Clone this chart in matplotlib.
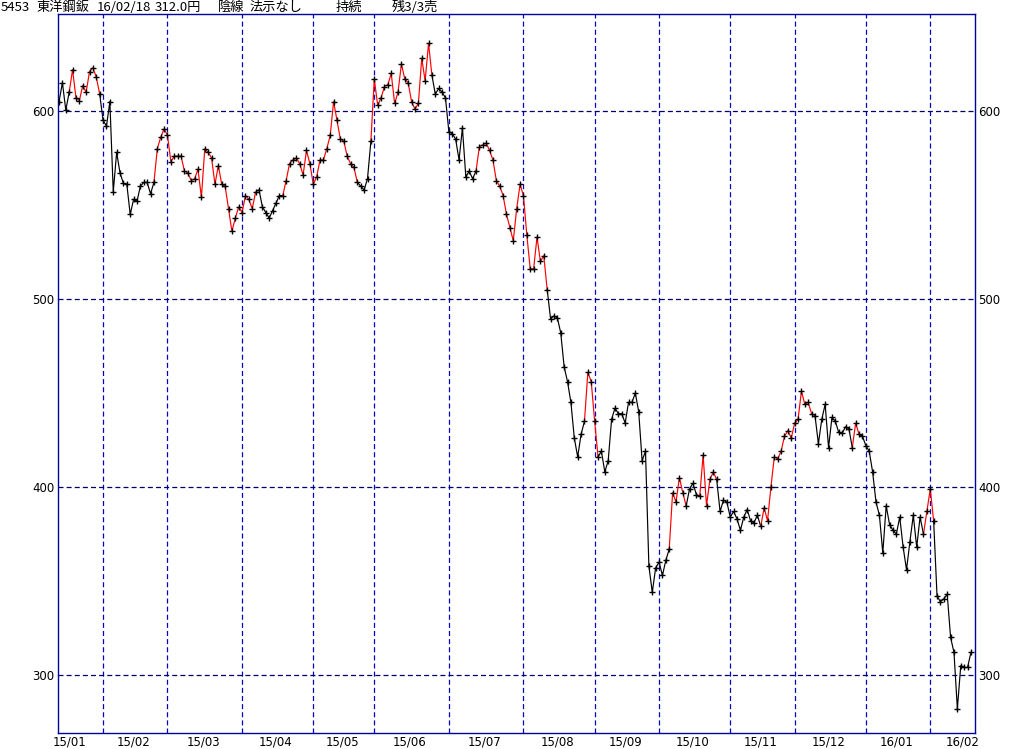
import matplotlib
matplotlib.use("Agg")
import matplotlib.pyplot as plt
import numpy as np

# ---- data -------------------------------------------------------------
close = [
    605, 615, 600.5, 610, 622, 607, 605.5, 613.5, 610, 621,
    623, 618, 609, 595, 592, 605, 557, 578, 567, 561.5,
    561, 545, 553, 552, 560, 562, 562, 556, 562, 580,
    586, 590.5, 587, 573, 576, 576, 576, 568, 567, 563,
    564, 569, 554, 580, 578, 575, 561, 571, 561, 560,
    548, 536, 543, 549, 546, 555, 553, 548, 557, 558,
    549, 546, 543, 547, 551, 555, 555, 563, 572, 574,
    575, 572, 566, 579, 572, 561, 565, 574, 574, 580,
    587, 605, 595, 585, 584, 576, 572, 570, 562, 560,
    558, 564, 584, 617, 603, 607, 613, 614, 620, 604,
    610, 625, 617, 615, 605, 601, 604, 628, 616, 636,
    619, 609, 612, 610, 607, 589, 588, 585, 574, 591,
    565, 568, 564, 568, 581, 582, 583, 579, 574, 563,
    560, 555, 545, 538, 531, 548, 561, 555, 534, 516,
    516, 533, 520, 523, 505, 489.5, 491, 490, 482, 464,
    456, 445, 426, 416, 428, 435, 461, 456, 435, 416,
    419, 408, 414, 436, 442, 439, 439, 434, 445, 445,
    450, 440, 414, 419, 358, 344, 357, 360, 353, 361,
    367, 397, 392, 405, 397, 390, 399, 402, 396, 395,
    417, 390, 404, 408, 404, 387, 393, 392, 384, 387,
    383, 377, 384, 388, 382, 381, 385, 379, 389, 382,
    400, 416, 415, 419, 427, 430, 426, 434, 436, 451,
    444, 445, 439, 438, 423, 436, 444, 421, 437, 435,
    429, 428.5, 432, 431, 421, 434, 428, 427, 422, 419,
    408, 392, 385, 365, 390, 380, 377, 375, 384, 368,
    356, 371, 385, 368, 384, 375, 387, 399, 382, 342,
    339, 340.5, 343, 320, 312, 282, 305, 304, 304, 312,
]

# segments (start point index, end point index) drawn in the "signal" state
signal_runs = [(3, 12), (28, 59), (66, 88), (92, 110), (123, 144), (155, 159),
               (180, 185), (189, 194), (207, 223), (232, 233), (234, 236),
               (255, 258)]

month_labels = ["15/01", "15/02", "15/03", "15/04", "15/05", "15/06", "15/07",
                "15/08", "15/09", "15/10", "15/11", "15/12", "16/01", "16/02"]
month_start = [-6, 13, 32, 54, 75, 93, 115, 137, 158, 177, 198, 217, 238, 257]
month_days = [19, 19, 22, 21, 18, 22, 22, 21, 19, 21, 19, 21, 19, 20]

y_ticks = [300, 400, 500, 600]

title_parts = ["5453", "東洋鋼鈑", "16/02/18", "312.0円", "陰線", "法示なし", "持続", "残3/3売"]

# ---- figure -----------------------------------------------------------
W, H = 1032, 749
fig = plt.figure(figsize=(W / 100, H / 100), dpi=100)
fig.patch.set_facecolor("white")
ax = fig.add_axes([58 / W, 16 / H, 917 / W, 719 / H])

x = np.arange(len(close))
y = np.array(close, dtype=float)

# segment states
state = np.zeros(len(close) - 1, dtype=int)
for a, b in signal_runs:
    state[a:b] = 1

# draw line in runs of equal state
j = 0
n = len(state)
while j < n:
    k = j
    while k + 1 < n and state[k + 1] == state[j]:
        k += 1
    col = "#ff0000" if state[j] == 1 else "#000000"
    ax.plot(x[j:k + 2], y[j:k + 2], color=col, lw=0.85, zorder=3,
            solid_joinstyle="round")
    j = k + 1

ax.plot(x, y, linestyle="none", marker="+", color="black", ms=4.2, mew=1.0,
        zorder=4)

# grid lines
for m in month_start[1:]:
    ax.axvline(m, color="#0000c0", lw=0.9, ls=(0, (4, 2.5)), zorder=1)
for v in y_ticks:
    ax.axhline(v, color="#00006a", lw=0.9, ls=(0, (4, 2.5)), zorder=1)

ax.set_xlim(-0.3, 270.2)
ax.set_ylim(269.15, 651.6)

for s in ax.spines.values():
    s.set_color("#0000a0")
    s.set_linewidth(1.0)

ax.set_yticks(y_ticks)
ax.set_yticklabels([str(v) for v in y_ticks])
ax.tick_params(axis="y", length=0, labelleft=True, labelright=True, pad=2.5,
               labelsize=8.5)

pos = [s + d / 2 - 0.5 for s, d in zip(month_start, month_days)]
pos[0] = max(pos[0], 2.4)
ax.set_xticks(pos)
ax.set_xticklabels(month_labels)
ax.tick_params(axis="x", length=0, pad=1.5, labelsize=8.5)

# title line
title_x = [1, 36, 97, 155, 218, 250, 336, 392]
for t, px in zip(title_parts, title_x):
    fig.text(px / W, 1 - 7.5 / H, t, ha="left", va="center", fontsize=9.5,
             family=["Noto Sans CJK JP", "DejaVu Sans"])

fig.savefig("out.png", dpi=100)
